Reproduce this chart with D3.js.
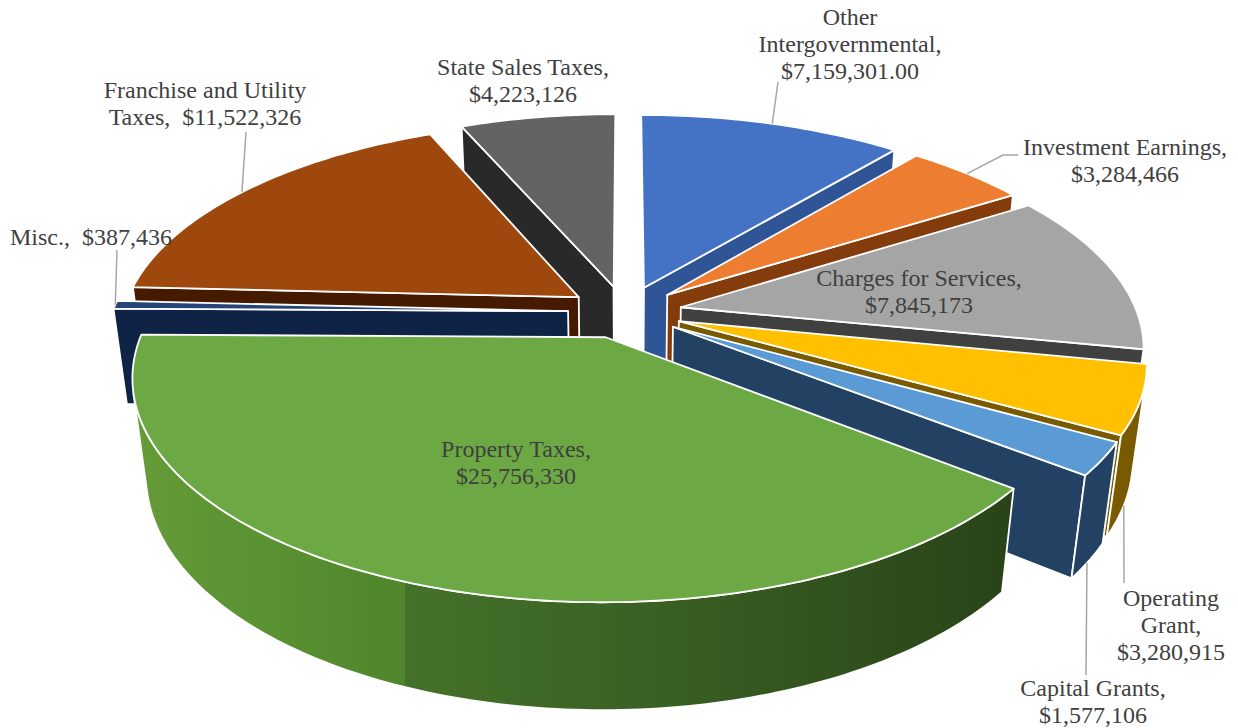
<!DOCTYPE html>
<html>
<head>
<meta charset="utf-8">
<script src="https://cdn.jsdelivr.net/npm/d3@7"></script>
<style>
  html, body { margin: 0; padding: 0; background: #fff; }
  svg { display: block; }
  text { font-family: "Liberation Serif", serif; font-size: 24px; fill: #404040; }
</style>
</head>
<body>
<svg id="chart" width="1238" height="728"></svg>
<script>
// Revenue sources, clockwise from twelve o'clock
const categories = ["Other Intergovernmental", "Investment Earnings", "Charges for Services",
  "Operating Grant", "Capital Grants", "Property Taxes", "Misc.",
  "Franchise and Utility Taxes", "State Sales Taxes"];
const revenues = [7159301, 3284466, 7845173, 3280915, 1577106, 25756330, 387436, 11522326, 4223126];
const labelLines = [
  ["Other", "Intergovernmental,", "$7,159,301.00"],
  ["Investment Earnings,", "$3,284,466"],
  ["Charges for Services,", "$7,845,173"],
  ["Operating", "Grant,", "$3,280,915"],
  ["Capital Grants,", "$1,577,106"],
  ["Property Taxes,", "$25,756,330"],
  ["Misc.,  $387,436"],
  ["Franchise and Utility", "Taxes,  $11,522,326"],
  ["State Sales Taxes,", "$4,223,126"]
];

// Slice colours: top face and side wall
const topColors = ["#4472c4", "#ed7d31", "#a5a5a5", "#ffc000", "#5b9bd5", "#6ca843", "#264478", "#9e480e", "#636363"];
const wallColors = ["#2f5597", "#843c0c", "#404040", "#7a5a00", "#234263", "url(#propertyWall)", "#0f2347", "#451a00", "#292929"];

// Label placement, baseline of the first line
const labelAnchors = [[850, 25], [1125, 155], [919, 286], [1171, 606], [1093, 696], [516, 457], [91, 245], [205, 98], [523, 75]];
const lineHeight = 27;

// Leader lines: where on the rim they leave the slice, then the path to the label
const leaders = [
  { slice: 0, angleShare: 0.50, path: [[778, 82]] },
  { slice: 1, angleShare: 0.50, path: [[1003, 155], [1018, 155]] },
  { slice: 3, angleShare: 0.58, wallDrop: 1, path: [[1124, 583]] },
  { slice: 4, angleShare: 0.55, wallDrop: 1, path: [[1086, 675]] },
  { slice: 6, angleShare: 0.50, path: [[117, 250]] },
  { slice: 7, angleShare: 0.49, path: [[246, 132]] }
];

// Camera and solid
const centerX = 625, centerY = 312;
const radiusX = 456, radiusY = 210;
const explode = 0.125, depth = 98;
const perspective = 0.171, depthPerspective = 0.027;

const toRad = d => d * Math.PI / 180;
const scaleX = d3.scaleLinear().domain([-1, 1]).range([centerX - radiusX, centerX + radiusX]);
const scaleY = d3.scaleLinear().domain([-1, 1]).range([centerY - radiusY, centerY + radiusY]);

const slices = d3.pie().sort(null).value(d => d)(revenues).map((s, i) => {
  const mid = (s.startAngle + s.endAngle) / 2;
  return { i, start: s.startAngle, end: s.endAngle, mid };
});

// Ground-plane point of a slice -> screen; z runs from the top face (0) to the base (1)
function project(s, angle, r, z) {
  const gx = explode * Math.sin(s.mid) + r * Math.sin(angle);
  const gy = -(explode * Math.cos(s.mid) + r * Math.cos(angle));
  const f = 1 / (1 - perspective * gy + depthPerspective * z);
  return [scaleX(gx * f), scaleY(gy * f) + depth * z * f];
}

const outline = d3.line().curve(d3.curveLinearClosed);

function arcAngles(s) {
  const n = Math.max(2, Math.ceil((s.end - s.start) / toRad(1)));
  return d3.range(n + 1).map(k => s.start + (s.end - s.start) * k / n);
}

const svg = d3.select("#chart");

// Side wall of the large slice darkens to the right, with a shading seam part-way along
const grad = svg.append("defs").append("linearGradient")
  .attr("id", "propertyWall").attr("gradientUnits", "userSpaceOnUse")
  .attr("x1", 133).attr("x2", 1015).attr("y1", 0).attr("y2", 0);
[[0, "#659c38"], [0.308, "#4f862c"], [0.308, "#45722a"], [0.56, "#3b6224"], [1, "#294318"]]
  .forEach(([o, c]) => grad.append("stop").attr("offset", o).attr("stop-color", c));

const pieLayer = svg.append("g");

// Paint back to front; each slice is convex, so only camera-facing walls are drawn
d3.sort(slices, s => -Math.cos(s.mid)).forEach(s => {
  const g = pieLayer.append("g").attr("data-name", categories[s.i]);
  const wall = wallColors[s.i];
  const edge = sel => sel.attr("stroke", "#fff").attr("stroke-width", 1.8).attr("stroke-linejoin", "round");

  [s.start, s.end].forEach((a, idx) => {
    const pts = [project(s, a, 0, 0), project(s, a, 1, 0), project(s, a, 1, 1), project(s, a, 0, 1)];
    const area = d3.polygonArea(pts);
    const facing = idx === 0 ? area > 0 : area < 0;
    if (facing) g.append("path").attr("d", outline(pts)).attr("fill", wall).call(edge);
  });

  const angles = arcAngles(s);
  const front = angles.slice(1).map((a, k) => {
    const quad = [project(s, angles[k], 1, 0), project(s, a, 1, 0), project(s, a, 1, 1), project(s, angles[k], 1, 1)];
    return d3.polygonArea(quad) > 0 ? [angles[k], a] : null;
  }).filter(Boolean);
  if (front.length) {
    const rimAngles = [front[0][0], ...front.map(p => p[1])];
    const rim = [...rimAngles.map(a => project(s, a, 1, 0)), ...rimAngles.slice().reverse().map(a => project(s, a, 1, 1))];
    g.append("path").attr("d", outline(rim)).attr("fill", wall).call(edge);
  }

  const face = [project(s, s.start, 0, 0), ...angles.map(a => project(s, a, 1, 0))];
  g.append("path").attr("d", outline(face)).attr("fill", topColors[s.i]).call(edge);
});

// Leader lines
const leaderLine = d3.line();
svg.append("g").selectAll("path").data(leaders).join("path")
  .attr("fill", "none").attr("stroke", "#a6a6a6").attr("stroke-width", 1.5)
  .attr("d", d => {
    const s = slices[d.slice];
    const a = s.start + (s.end - s.start) * d.angleShare;
    return leaderLine([project(s, a, 1, d.wallDrop || 0), ...d.path]);
  });

// Data labels
const labels = svg.append("g").selectAll("text").data(labelLines).join("text")
  .attr("text-anchor", "middle")
  .style("white-space", "pre");
labels.each(function (lines, i) {
  const [x, y] = labelAnchors[i];
  d3.select(this).selectAll("tspan").data(lines).join("tspan")
    .attr("x", x).attr("y", (_, k) => y + k * lineHeight).text(t => t);
});
</script>
</body>
</html>
